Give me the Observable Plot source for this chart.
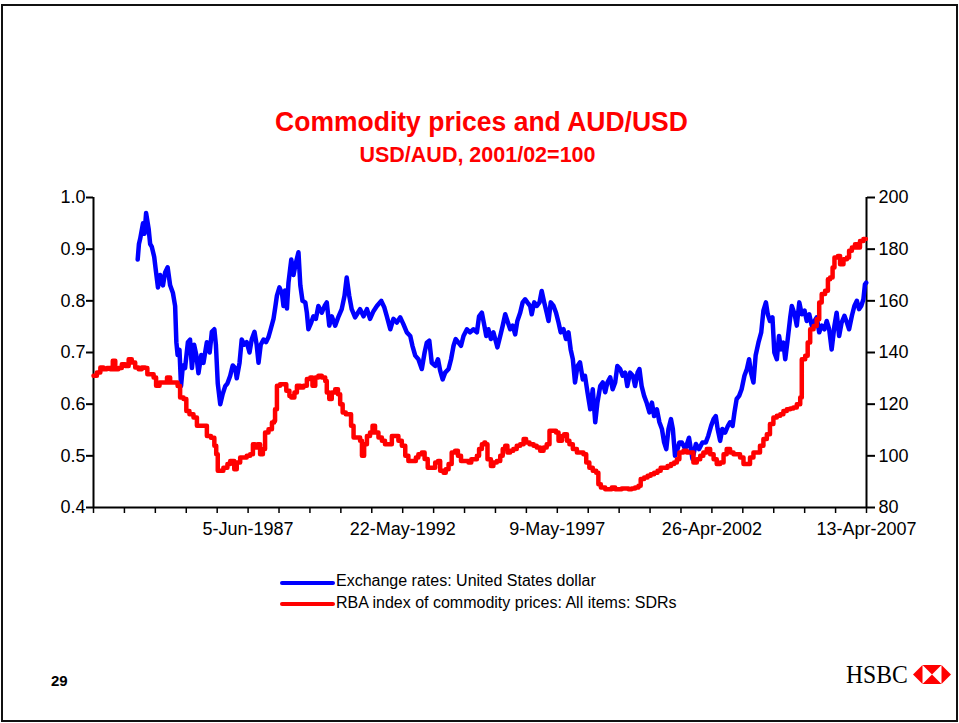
<!DOCTYPE html>
<html><head><meta charset="utf-8">
<script src="https://cdn.jsdelivr.net/npm/d3@7"></script>
<script src="https://cdn.jsdelivr.net/npm/@observablehq/plot@0.6"></script>
<style>
body{margin:0;background:#fff;font-family:"Liberation Sans",Arial,sans-serif;}
#page{position:relative;width:959px;height:723px;overflow:hidden;background:#fff;}
#frame{position:absolute;left:1px;top:4px;width:953px;height:714px;border:2px solid #111;}
#chart{position:absolute;left:0;top:0;}
.title{position:absolute;left:2px;width:959px;text-align:center;top:107px;font-weight:bold;font-size:28.5px;line-height:28.5px;color:#ff0000;transform:scaleX(0.93);}
.subtitle{position:absolute;left:-2px;width:959px;text-align:center;top:145px;font-weight:bold;font-size:21.5px;line-height:21.5px;color:#ff0000;}
.lgline{position:absolute;left:280px;width:55px;height:4px;border-radius:2px;}
.lgtext{position:absolute;left:336px;font-size:16px;line-height:16px;color:#000;white-space:nowrap;}
.pagenum{position:absolute;left:51px;top:673px;font-weight:bold;font-size:15px;line-height:15px;}
.hsbc{position:absolute;left:846px;top:661.5px;font-family:"Liberation Serif","Times New Roman",serif;font-size:26px;line-height:26px;transform:scaleX(0.91);transform-origin:left;}
.logo{position:absolute;left:913px;top:665px;}
</style></head>
<body>
<div id="page">
  <div id="frame"></div>
  <div id="chart"></div>
  <div class="title">Commodity prices and AUD/USD</div>
  <div class="subtitle">USD/AUD, 2001/02=100</div>
  <div class="lgline" style="top:581px;background:#0000ff"></div>
  <div class="lgtext" style="top:573px">Exchange rates: United States dollar</div>
  <div class="lgline" style="top:602px;background:#ff0000"></div>
  <div class="lgtext" style="top:595px">RBA index of commodity prices: All items: SDRs</div>
  <div class="pagenum">29</div>
  <div class="hsbc">HSBC</div>
  <svg class="logo" width="38" height="19" viewBox="0 0 38 19">
    <polygon points="0,9.5 9.5,0 9.5,19" fill="#ff0000"/>
    <polygon points="9.5,0 28.5,0 19,9.5" fill="#ff0000"/>
    <polygon points="9.5,19 28.5,19 19,9.5" fill="#ff0000"/>
    <polygon points="28.5,0 38,9.5 28.5,19" fill="#ff0000"/>
  </svg>
</div>
<script>
// Exchange rate USD per AUD: [decimal year, value]
const usdSeries = [
[1983.88,0.88],[1983.92,0.91],[1983.96,0.92],[1984.05,0.95],[1984.10,0.93],[1984.15,0.97],[1984.23,0.94],[1984.28,0.91],[1984.33,0.905],[1984.41,0.885],[1984.47,0.855],[1984.53,0.826],[1984.60,0.85],[1984.69,0.83],[1984.76,0.855],[1984.84,0.865],[1984.92,0.83],[1985.01,0.815],[1985.08,0.79],[1985.12,0.72],[1985.16,0.695],[1985.22,0.705],[1985.27,0.635],[1985.33,0.675],[1985.40,0.67],[1985.49,0.72],[1985.56,0.725],[1985.62,0.67],[1985.69,0.715],[1985.76,0.695],[1985.83,0.66],[1985.92,0.695],[1985.99,0.68],[1986.10,0.72],[1986.19,0.70],[1986.26,0.74],[1986.34,0.745],[1986.39,0.715],[1986.45,0.64],[1986.53,0.60],[1986.61,0.62],[1986.69,0.635],[1986.76,0.64],[1986.85,0.655],[1986.93,0.675],[1987.01,0.67],[1987.06,0.65],[1987.15,0.68],[1987.22,0.725],[1987.30,0.715],[1987.38,0.72],[1987.47,0.70],[1987.54,0.725],[1987.63,0.74],[1987.70,0.715],[1987.76,0.68],[1987.83,0.715],[1987.92,0.725],[1988.00,0.72],[1988.08,0.73],[1988.15,0.745],[1988.24,0.765],[1988.29,0.785],[1988.35,0.81],[1988.43,0.826],[1988.51,0.815],[1988.56,0.79],[1988.61,0.82],[1988.67,0.785],[1988.72,0.835],[1988.81,0.88],[1988.88,0.85],[1988.96,0.874],[1989.04,0.894],[1989.10,0.83],[1989.17,0.80],[1989.26,0.797],[1989.31,0.777],[1989.36,0.745],[1989.45,0.758],[1989.52,0.77],[1989.60,0.765],[1989.68,0.79],[1989.79,0.777],[1989.88,0.79],[1989.95,0.797],[1990.03,0.752],[1990.11,0.77],[1990.22,0.752],[1990.33,0.77],[1990.43,0.784],[1990.52,0.81],[1990.59,0.845],[1990.67,0.81],[1990.75,0.784],[1990.86,0.768],[1990.95,0.777],[1991.02,0.784],[1991.13,0.77],[1991.24,0.784],[1991.34,0.765],[1991.45,0.78],[1991.56,0.79],[1991.70,0.80],[1991.80,0.787],[1991.88,0.77],[1991.99,0.745],[1992.09,0.765],[1992.20,0.758],[1992.31,0.768],[1992.41,0.755],[1992.52,0.739],[1992.63,0.732],[1992.70,0.713],[1992.79,0.694],[1992.89,0.687],[1993.00,0.668],[1993.09,0.70],[1993.16,0.719],[1993.24,0.723],[1993.32,0.68],[1993.43,0.674],[1993.52,0.687],[1993.59,0.665],[1993.67,0.648],[1993.75,0.661],[1993.86,0.668],[1993.94,0.687],[1994.02,0.713],[1994.09,0.726],[1994.18,0.719],[1994.26,0.713],[1994.34,0.732],[1994.45,0.745],[1994.55,0.739],[1994.66,0.745],[1994.77,0.739],[1994.84,0.77],[1994.93,0.777],[1995.01,0.752],
[1995.07,0.732],[1995.14,0.745],[1995.22,0.726],[1995.30,0.739],[1995.39,0.719],[1995.43,0.71],[1995.52,0.732],[1995.60,0.752],[1995.68,0.774],[1995.75,0.761],[1995.84,0.745],[1995.92,0.752],[1996.00,0.735],[1996.07,0.761],[1996.16,0.777],[1996.24,0.797],[1996.32,0.803],[1996.39,0.797],[1996.48,0.79],[1996.53,0.774],[1996.61,0.797],[1996.69,0.79],[1996.78,0.797],[1996.85,0.819],[1996.93,0.797],[1997.01,0.777],[1997.07,0.761],[1997.14,0.797],[1997.23,0.79],[1997.31,0.777],[1997.39,0.758],[1997.46,0.739],[1997.55,0.745],[1997.63,0.726],[1997.71,0.739],[1997.78,0.706],[1997.85,0.687],[1997.92,0.642],[1998.00,0.674],[1998.08,0.681],[1998.17,0.648],[1998.24,0.655],[1998.32,0.623],[1998.41,0.59],[1998.49,0.629],[1998.57,0.565],[1998.64,0.603],[1998.73,0.635],[1998.81,0.642],[1998.89,0.623],[1998.96,0.642],[1999.05,0.652],[1999.13,0.629],[1999.21,0.642],[1999.28,0.674],[1999.37,0.668],[1999.45,0.655],[1999.53,0.661],[1999.60,0.635],[1999.69,0.661],[1999.78,0.655],[1999.85,0.635],[1999.93,0.661],[1999.99,0.668],[2000.06,0.635],[2000.14,0.616],[2000.22,0.603],[2000.31,0.584],[2000.39,0.603],[2000.46,0.577],[2000.55,0.59],[2000.63,0.565],[2000.71,0.552],[2000.78,0.526],[2000.85,0.513],[2000.92,0.552],[2001.00,0.571],[2001.06,0.552],[2001.13,0.50],[2001.21,0.513],[2001.27,0.526],
[2001.35,0.526],[2001.46,0.513],[2001.58,0.535],[2001.69,0.494],[2001.80,0.523],[2001.90,0.513],[2002.01,0.526],[2002.12,0.526],[2002.20,0.539],[2002.29,0.558],[2002.37,0.571],[2002.44,0.577],[2002.50,0.552],[2002.58,0.529],[2002.65,0.552],[2002.74,0.545],[2002.83,0.558],[2002.90,0.565],[2002.98,0.558],[2003.04,0.584],[2003.11,0.61],[2003.19,0.616],[2003.27,0.629],[2003.36,0.655],[2003.44,0.668],[2003.51,0.687],[2003.57,0.661],[2003.65,0.642],[2003.72,0.694],[2003.81,0.719],[2003.90,0.739],[2003.97,0.781],[2004.05,0.797],[2004.11,0.774],[2004.18,0.761],[2004.26,0.768],[2004.32,0.70],[2004.40,0.687],[2004.47,0.732],[2004.54,0.706],[2004.61,0.719],[2004.67,0.687],[2004.75,0.726],[2004.83,0.768],[2004.88,0.79],[2004.97,0.774],[2005.04,0.752],[2005.12,0.797],[2005.20,0.774],[2005.29,0.781],[2005.36,0.761],[2005.44,0.774],[2005.52,0.752],[2005.61,0.761],[2005.68,0.768],[2005.76,0.739],[2005.84,0.752],[2005.93,0.745],[2006.00,0.761],[2006.08,0.745],[2006.16,0.706],[2006.25,0.752],[2006.32,0.777],[2006.40,0.732],[2006.48,0.758],[2006.57,0.771],[2006.65,0.758],[2006.72,0.745],[2006.81,0.771],[2006.89,0.79],[2006.97,0.80],[2007.04,0.784],[2007.11,0.79],[2007.18,0.803],[2007.23,0.832],[2007.27,0.835]
];

// RBA index of commodity prices, SDRs (2001/02=100): [decimal year, value]
const rbaSeries = [
[1982.46,131],[1982.57,132.3],[1982.68,134.2],[1982.78,133.5],[1982.89,134],[1983.00,133.5],[1983.08,136.8],[1983.16,133.5],[1983.26,134],[1983.37,135.5],[1983.48,134.8],[1983.59,137.4],[1983.69,136.1],[1983.80,134.2],[1983.91,133.5],[1984.01,134.2],[1984.12,134],[1984.19,131.6],[1984.28,131.6],[1984.39,130.3],[1984.47,127.1],[1984.58,128.4],[1984.69,128.4],[1984.82,130.3],[1984.92,128.4],[1985.03,128.4],[1985.16,127],[1985.24,122.6],[1985.35,122],[1985.44,117.4],[1985.54,116.1],[1985.67,114.8],[1985.78,111.6],[1985.99,111.6],[1986.10,107.7],[1986.23,107],[1986.34,103.9],[1986.40,100.6],[1986.45,94.2],[1986.55,94.2],[1986.63,95.4],[1986.76,96.8],[1986.85,98],[1986.98,94.8],[1987.06,97.4],[1987.17,99.4],[1987.28,99.4],[1987.38,100],[1987.49,100.6],[1987.58,104.5],[1987.65,103.2],[1987.73,104.5],[1987.81,100.6],[1987.90,102.6],[1987.97,109],[1988.08,110.3],[1988.19,112.9],[1988.26,113.5],[1988.29,118],[1988.35,127.1],[1988.45,127.7],[1988.56,127.7],[1988.65,125.2],[1988.75,123.2],[1988.81,122.6],[1988.91,124.5],[1988.99,127.1],[1989.10,126.5],[1989.20,127.1],[1989.31,129.7],[1989.42,130.3],[1989.49,127.1],[1989.58,130.3],[1989.68,131],[1989.79,130.3],[1989.90,129],[1989.95,124.5],[1990.03,122],[1990.11,124.5],[1990.22,125.8],[1990.31,123.8],[1990.38,120],[1990.46,116.8],[1990.56,116.1],[1990.67,116.1],[1990.73,111.6],[1990.81,107.1],[1990.92,107.1],[1991.02,105.8],[1991.08,100],[1991.15,104.5],[1991.24,107.7],[1991.34,109],[1991.42,111.6],[1991.50,109],[1991.61,107.1],[1991.72,105.8],[1991.82,104.5],[1991.93,104.5],[1992.04,107.7],[1992.15,107.7],[1992.25,105.8],[1992.36,103.9],[1992.47,100],[1992.57,98],[1992.68,98],[1992.81,99.4],[1992.89,100.6],[1993.00,101.3],[1993.09,98.8],[1993.19,95.4],[1993.32,95.4],[1993.43,97.4],[1993.52,98],[1993.59,94.2],[1993.70,93.5],[1993.77,94.8],[1993.86,96.8],[1993.96,101.3],[1994.07,102],[1994.16,100],[1994.26,98],[1994.39,98],[1994.50,97.4],[1994.59,98.7],[1994.69,98.7],[1994.77,100],[1994.84,102.6],[1994.93,104.5],[1995.01,105.2],[1995.04,104.5],[1995.11,98.7],
[1995.22,96.1],[1995.30,97.4],[1995.41,98],[1995.52,100],[1995.60,102.6],[1995.68,103.9],[1995.75,101.3],[1995.84,102],[1995.94,102.6],[1996.05,103.9],[1996.16,104.5],[1996.27,106.5],[1996.35,105.2],[1996.46,104.5],[1996.59,103.9],[1996.69,103.2],[1996.80,102],[1996.91,103.2],[1997.01,104.5],[1997.10,109.7],[1997.21,109.7],[1997.31,109],[1997.39,105.8],[1997.50,107.7],[1997.57,108.4],[1997.66,105.8],[1997.74,104.5],[1997.85,102.6],[1997.98,101.3],[1998.11,101.3],[1998.19,100.6],[1998.28,97.4],[1998.38,95.4],[1998.49,94.2],[1998.60,93.5],[1998.67,89],[1998.75,87.7],[1998.89,87.1],[1998.99,87.1],[1999.10,87.7],[1999.21,87.1],[1999.32,87.1],[1999.42,87.4],[1999.53,87.4],[1999.64,87.1],[1999.74,87.4],[1999.85,87.7],[1999.96,88.4],[2000.03,91],[2000.14,91.6],[2000.25,92.3],[2000.35,92.9],[2000.46,93.5],[2000.57,94.2],[2000.67,95.4],[2000.78,95.4],[2000.89,96.1],[2001.00,96.8],[2001.10,97.4],[2001.19,98.7],[2001.27,101.3],
[2001.40,102],[2001.51,101.3],[2001.62,101.3],[2001.72,97.4],[2001.83,98.7],[2001.94,100],[2002.04,101.3],[2002.15,102.6],[2002.26,100.6],[2002.37,98.7],[2002.47,96.8],[2002.58,97.4],[2002.69,100.6],[2002.79,102.6],[2002.90,101.3],[2003.01,100.6],[2003.11,100.6],[2003.22,99.4],[2003.33,96.8],[2003.44,96.8],[2003.54,99.4],[2003.65,101.3],[2003.76,101.3],[2003.86,103.9],[2003.97,106.5],[2004.08,108.4],[2004.18,112.3],[2004.29,114.8],[2004.40,115.5],[2004.51,116.1],[2004.61,117.4],[2004.72,118],[2004.83,118.3],[2004.93,118.7],[2005.04,120],[2005.15,122.6],[2005.20,137.4],[2005.31,138.7],[2005.39,143.9],[2005.47,149],[2005.58,150.3],[2005.68,152.9],[2005.76,159.4],[2005.84,162.6],[2005.95,163.9],[2006.04,168.4],[2006.11,169],[2006.19,172.9],[2006.25,176.8],[2006.36,177.4],[2006.43,174.2],[2006.54,176.1],[2006.65,176.8],[2006.72,179.4],[2006.81,180.6],[2006.91,181.9],[2006.99,180.6],[2007.07,183.2],[2007.18,183.9],[2007.26,183.9]
];

// Axis ticks and labels
const leftTicks = [0.4, 0.5, 0.6, 0.7, 0.8, 0.9, 1.0];
const rightTicks = [80, 100, 120, 140, 160, 180, 200];
const xLabelDates = ["1987-06-05", "1992-05-22", "1997-05-09", "2002-04-26", "2007-04-13"];
const xLabels = ["5-Jun-1987", "22-May-1992", "9-May-1997", "26-Apr-2002", "13-Apr-2007"];
const minorPerLabel = 5;

function yearToDate(y) {
  const yr = Math.floor(y);
  const a = Date.UTC(yr, 0, 1), b = Date.UTC(yr + 1, 0, 1);
  return new Date(a + (y - yr) * (b - a));
}
const usd = usdSeries.map(([y, v]) => ({date: yearToDate(y), value: v}));
const rba = rbaSeries.map(([y, v]) => ({date: yearToDate(y), value: v}));

const labelTimes = xLabelDates.map(s => Date.parse(s + "T00:00:00Z"));
const step = (labelTimes[1] - labelTimes[0]) / minorPerLabel;
const tickDates = [];
const labelMap = new Map();
for (let i = -minorPerLabel; i <= (labelTimes.length - 1) * minorPerLabel; i++) {
  const t = labelTimes[0] + i * step;
  tickDates.push(new Date(t));
  if (i >= 0 && i % minorPerLabel === 0) labelMap.set(t, xLabels[i / minorPerLabel]);
}
const xStart = tickDates[0];
const xEnd = new Date(labelTimes[labelTimes.length - 1]);
const scale2 = 200; // right axis = 200 x left axis

const chart = Plot.plot({
  width: 959,
  height: 560,
  marginLeft: 93,
  marginRight: 93,
  marginTop: 197,
  marginBottom: 53,
  style: {fontFamily: "'Liberation Sans', Arial, sans-serif", fontSize: "18px", color: "#000", background: "transparent", overflow: "visible"},
  x: {type: "utc", domain: [xStart, xEnd]},
  y: {domain: [0.4, 1.0]},
  marks: [
    Plot.axisY({anchor: "left", ticks: leftTicks, tickFormat: d3.format(".1f"), tickSize: 7, tickPadding: 1, strokeWidth: 2, label: null}),
    Plot.axisY({anchor: "right", ticks: rightTicks.map(v => v / scale2), tickFormat: d => String(Math.round(d * scale2)), tickSize: 8, tickPadding: 4, strokeWidth: 2, label: null}),
    Plot.axisX({ticks: tickDates, tickFormat: d => labelMap.get(+d) ?? "", tickSize: 6, tickPadding: 9, strokeWidth: 1.5, label: null}),
    Plot.ruleX([xStart, xEnd], {stroke: "#000", strokeWidth: 2}),
    Plot.ruleY([0.4], {stroke: "#000", strokeWidth: 2}),
    Plot.line(usd, {x: "date", y: "value", stroke: "#0000ff", strokeWidth: 4.5}),
    Plot.line(rba, {x: "date", y: d => d.value / scale2, stroke: "#ff0000", strokeWidth: 4.5, curve: "step-after"})
  ]
});
document.getElementById("chart").appendChild(chart);
</script>
</body></html>
